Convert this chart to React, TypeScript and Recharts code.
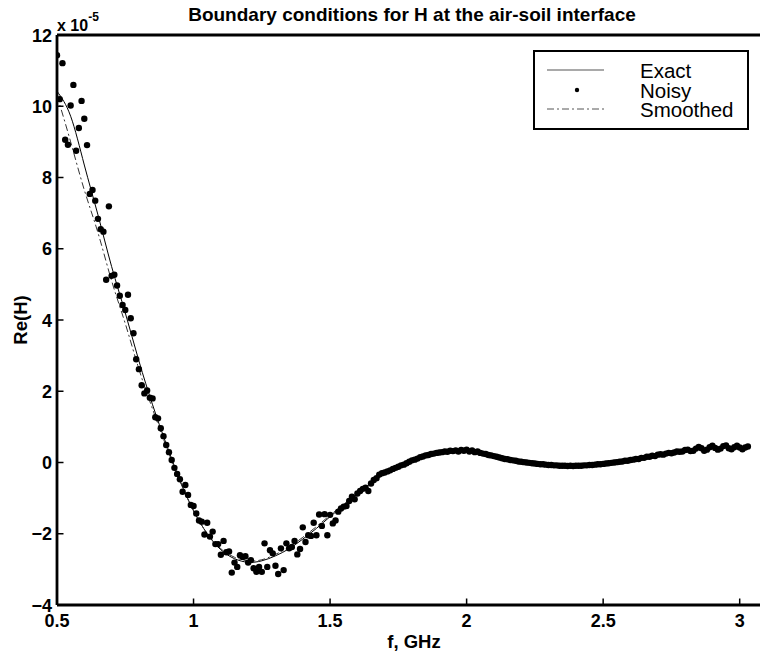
import React from "react";
import { ComposedChart, Line, Scatter, XAxis, YAxis, Legend } from "recharts";

const FONT = "'Liberation Sans', Arial, Helvetica, sans-serif";

// f in GHz, Re(H) in units of 1e-5
const xTicks = [0.5, 1, 1.5, 2, 2.5, 3];
const yTicks = [-4, -2, 0, 2, 4, 6, 8, 10, 12];

// exact and smoothed curves sampled every 0.05 GHz
const curveFreqs = [
  0.5, 0.55, 0.6, 0.65, 0.7, 0.75, 0.8, 0.85, 0.9, 0.95, 1.0, 1.05, 1.1, 1.15, 1.2, 1.25, 1.3, 1.35, 1.4,
  1.45, 1.5, 1.55, 1.6, 1.65, 1.7, 1.75, 1.8, 1.85, 1.9, 1.95, 2.0, 2.05, 2.1, 2.15, 2.2, 2.25, 2.3, 2.35,
  2.4, 2.45, 2.5, 2.55, 2.6, 2.65, 2.7, 2.75, 2.8, 2.85, 2.9, 2.95, 3.0, 3.03,
];
const exactVals = [
  10.42, 9.72, 8.35, 6.95, 5.5, 4.2, 2.85, 1.62, 0.52, -0.5, -1.35, -2.0, -2.45, -2.7, -2.8, -2.76, -2.62,
  -2.42, -2.15, -1.85, -1.52, -1.2, -0.88, -0.58, -0.32, -0.1, 0.07, 0.2, 0.28, 0.33, 0.33, 0.27, 0.18, 0.09,
  0.02, -0.03, -0.07, -0.09, -0.09, -0.07, -0.04, 0.01, 0.07, 0.14, 0.21, 0.28, 0.34, 0.38, 0.41, 0.42, 0.41,
  0.4,
];
const smoothedVals = [
  10.3, 9.0, 7.65, 6.45, 5.1, 3.9, 2.62, 1.5, 0.45, -0.52, -1.36, -1.99, -2.42, -2.66, -2.76, -2.73, -2.58,
  -2.37, -2.1, -1.8, -1.48, -1.17, -0.86, -0.57, -0.32, -0.1, 0.07, 0.2, 0.28, 0.33, 0.33, 0.27, 0.18, 0.09,
  0.02, -0.03, -0.07, -0.09, -0.09, -0.07, -0.04, 0.01, 0.07, 0.14, 0.21, 0.28, 0.34, 0.39, 0.42, 0.43, 0.42,
  0.41,
];

// noisy samples, one every 0.01 GHz starting at 0.50
const noisyStart = 0.5;
const noisy050 = [
  11.43, 10.2, 11.21, 9.06, 8.92, 10.02, 10.6, 8.75, 9.39, 10.15, 9.65, 8.91, 7.54, 7.65, 7.35, 6.84, 6.55,
  6.48, 5.13, 7.19, 5.24, 5.27, 4.97, 4.68, 4.42, 4.28, 4.71, 4.05, 3.63, 2.9, 2.62, 2.17, 1.94, 2.02, 1.82,
  1.8, 1.27, 1.24, 0.96, 0.74, 0.49, 0.29, 0.07, -0.15, -0.32, -0.47, -0.82, -0.63, -0.91, -1.19,
];
const noisy100 = [
  -1.22, -1.43, -1.63, -1.66, -2.02, -1.69, -2.08, -1.94, -2.29, -2.29, -2.59, -2.2, -2.52, -2.5, -3.09,
  -2.81, -2.93, -2.6, -2.65, -2.63, -2.81, -2.74, -2.97, -3.07, -2.93, -3.07, -2.27, -2.93, -2.46, -2.55,
  -2.9, -3.13, -2.41, -3.02, -2.27, -2.41, -2.37, -2.2, -2.58, -2.43, -1.82, -2.23, -2.04, -2.06, -1.69,
  -2.04, -1.46, -1.78, -1.45, -2.04,
];
const noisy150 = [
  -1.47, -1.71, -1.63, -1.38, -1.29, -1.24, -1.22, -1.08, -0.96, -1.03, -0.87, -0.8, -0.74, -0.71, -0.8,
  -0.59, -0.49, -0.44, -0.34, -0.3, -0.28, -0.25, -0.22, -0.18, -0.15, -0.12, -0.08, -0.06, -0.02, 0.02,
  0.06, 0.08, 0.11, 0.15, 0.17, 0.2, 0.21, 0.24, 0.25, 0.27, 0.28, 0.29, 0.31, 0.3, 0.33, 0.32, 0.34, 0.31,
  0.35, 0.33,
];
const noisy200 = [
  0.36, 0.31, 0.34, 0.29, 0.31, 0.27, 0.25, 0.24, 0.21, 0.2, 0.18, 0.16, 0.14, 0.12, 0.1, 0.09, 0.07, 0.06,
  0.05, 0.03, 0.02, 0.01, 0.0, -0.01, -0.02, -0.03, -0.04, -0.05, -0.05, -0.06, -0.07, -0.07, -0.08, -0.08,
  -0.09, -0.09, -0.09, -0.1, -0.09, -0.1, -0.09, -0.09, -0.09, -0.08, -0.08, -0.07, -0.07, -0.06, -0.05,
  -0.05,
];
const noisy250 = [
  -0.04, -0.03, -0.02, -0.01, 0.0, 0.01, 0.02, 0.03, 0.05, 0.05, 0.07, 0.08, 0.1, 0.1, 0.13, 0.13, 0.16,
  0.16, 0.19, 0.18, 0.22, 0.23, 0.22, 0.25, 0.27, 0.26, 0.28, 0.31, 0.3, 0.31, 0.35, 0.36, 0.32, 0.33, 0.39,
  0.44, 0.4, 0.33, 0.36, 0.43, 0.47, 0.41, 0.36, 0.39, 0.46, 0.48, 0.4, 0.37, 0.43, 0.47, 0.42, 0.37, 0.42,
  0.45,
];

const noisyVals = [...noisy050, ...noisy100, ...noisy150, ...noisy200, ...noisy250];
const noisyData = noisyVals.map((v, i) => ({ f: Math.round((noisyStart + i * 0.01) * 100) / 100, v }));
const exactData = curveFreqs.map((f, i) => ({ f, v: exactVals[i] }));
const smoothedData = curveFreqs.map((f, i) => ({ f, v: smoothedVals[i] }));

const minus = (v: number) => (v < 0 ? `\u2212${Math.abs(v)}` : String(v));

const BottomTick = ({ x, y, payload }: any) => (
  <g>
    <line x1={x} x2={x} y1={y} y2={y - 6.5} stroke="#000" strokeWidth={1.5} />
    <text x={x} y={y + 22} textAnchor="middle" fontFamily={FONT} fontWeight="bold" fontSize={18} fill="#000">
      {String(payload.value)}
    </text>
  </g>
);

const TopTick = ({ x, y }: any) => <line x1={x} x2={x} y1={y} y2={y + 6.5} stroke="#000" strokeWidth={1.5} />;

const LeftTick = ({ x, y, payload }: any) => (
  <g>
    <line x1={x} x2={x + 6.5} y1={y} y2={y} stroke="#000" strokeWidth={1.5} />
    <text x={x - 5} y={y + 6.5} textAnchor="end" fontFamily={FONT} fontWeight="bold" fontSize={18} fill="#000">
      {minus(payload.value)}
    </text>
  </g>
);

const RightTick = ({ x, y }: any) => <line x1={x} x2={x - 6.5} y1={y} y2={y} stroke="#000" strokeWidth={1.5} />;

const Dot = ({ cx, cy }: any) => <circle cx={cx} cy={cy} r={3.2} fill="#000" />;

const TitleLabel = ({ viewBox }: any) => (
  <g fontFamily={FONT} fontWeight="bold" fill="#000">
    <text x={viewBox.x + viewBox.width / 2} y={21} textAnchor="middle" fontSize={19}>
      Boundary conditions for H at the air-soil interface
    </text>
    <text x={viewBox.x} y={31} fontSize={16}>
      x 10
      <tspan dy={-10} fontSize={12}>
        -5
      </tspan>
    </text>
  </g>
);

const XLabel = ({ viewBox }: any) => (
  <text x={viewBox.x + viewBox.width / 2 + 2} y={648} textAnchor="middle" fontFamily={FONT} fontWeight="bold" fontSize={18.5} fill="#000">
    f, GHz
  </text>
);

const YLabel = ({ viewBox }: any) => {
  const cy = viewBox.y + viewBox.height / 2;
  return (
    <text x={27} y={cy} transform={`rotate(-90 27 ${cy})`} textAnchor="middle" fontFamily={FONT} fontWeight="bold" fontSize={18.5} fill="#000">
      Re(H)
    </text>
  );
};

const LegendBox = () => (
  <svg width={216} height={80} style={{ display: "block" }}>
    <rect x={1} y={1} width={214} height={78} fill="#fff" stroke="#000" strokeWidth={2} />
    <line x1={14} x2={71} y1={20} y2={20} stroke="#555" strokeWidth={1.2} />
    <circle cx={44} cy={40} r={2.2} fill="#000" />
    <line x1={14} x2={71} y1={59} y2={59} stroke="#555" strokeWidth={1} strokeDasharray="7 3 2 3" />
    <g fontFamily={FONT} fontSize={20.5} fill="#000">
      <text x={107} y={28}>Exact</text>
      <text x={107} y={47.5}>Noisy</text>
      <text x={107} y={67}>Smoothed</text>
    </g>
  </svg>
);

export default function App() {
  return (
    <div style={{ position: "absolute", left: 0, top: 0, width: 760, height: 657, overflow: "hidden", background: "#fff" }}>
      <ComposedChart width={790} height={657} margin={{ top: 0, right: 0, bottom: 0, left: 0 }}>
        <XAxis
          dataKey="f"
          type="number"
          domain={[0.5, 3.1]}
          ticks={xTicks}
          interval={0}
          height={52}
          allowDataOverflow
          tickSize={0}
          tickMargin={0}
          tick={<BottomTick />}
          axisLine={{ stroke: "#000", strokeWidth: 2.8 }}
          label={<XLabel />}
        />
        <XAxis
          xAxisId="top"
          orientation="top"
          type="number"
          domain={[0.5, 3.1]}
          ticks={xTicks}
          interval={0}
          height={35}
          allowDataOverflow
          tickSize={0}
          tickMargin={0}
          tick={<TopTick />}
          axisLine={{ stroke: "#000", strokeWidth: 2.8 }}
          label={<TitleLabel />}
        />
        <YAxis
          dataKey="v"
          type="number"
          domain={[-4, 12]}
          ticks={yTicks}
          interval={0}
          width={57}
          allowDataOverflow
          tickSize={0}
          tickMargin={0}
          tick={<LeftTick />}
          axisLine={{ stroke: "#000", strokeWidth: 2.8 }}
          label={<YLabel />}
        />
        <YAxis
          yAxisId="right"
          orientation="right"
          type="number"
          domain={[-4, 12]}
          ticks={yTicks}
          interval={0}
          width={23}
          allowDataOverflow
          tickSize={0}
          tickMargin={0}
          tick={<RightTick />}
          axisLine={{ stroke: "#000", strokeWidth: 2.8 }}
        />
        <Line data={exactData} dataKey="v" type="natural" stroke="#000" strokeWidth={1} dot={false} isAnimationActive={false} />
        <Scatter data={noisyData} dataKey="v" shape={<Dot />} isAnimationActive={false} />
        <Line
          data={smoothedData}
          dataKey="v"
          type="natural"
          stroke="#333"
          strokeWidth={1}
          strokeDasharray="7 3 2 3"
          dot={false}
          isAnimationActive={false}
        />
        <Legend
          verticalAlign="middle"
          layout="horizontal"
          wrapperStyle={{ position: "absolute", left: 533, top: 50, width: 216, height: 80 }}
          content={() => <LegendBox />}
        />
      </ComposedChart>
    </div>
  );
}
